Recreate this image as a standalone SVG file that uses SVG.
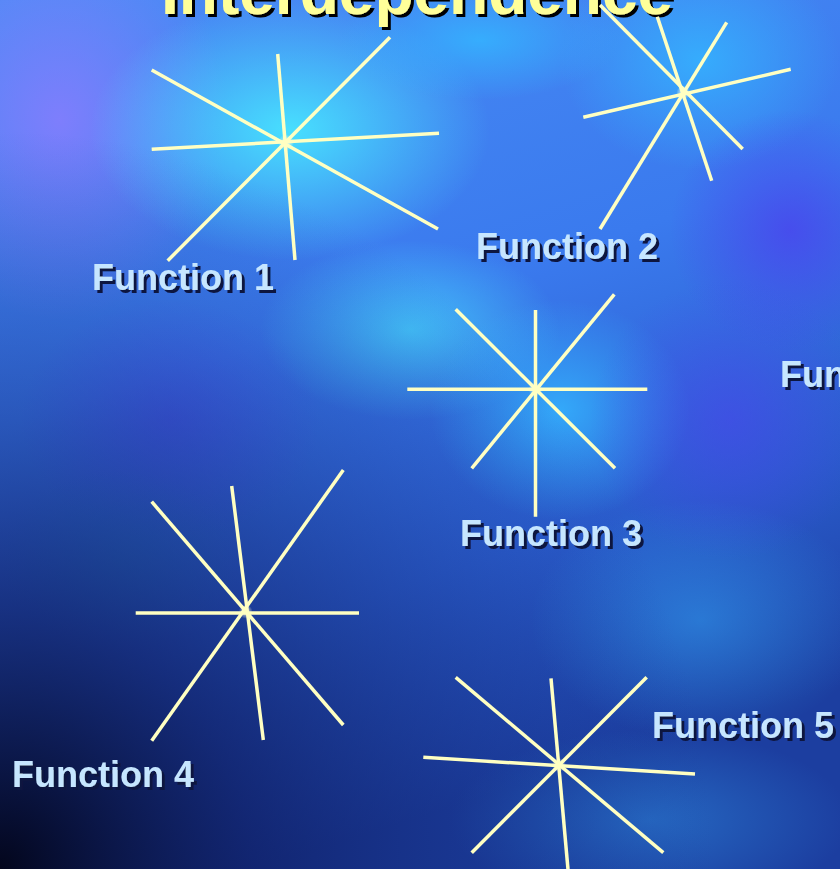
<svg xmlns="http://www.w3.org/2000/svg" width="840" height="869" viewBox="0 0 840 869">
  <defs>
    <linearGradient id="base" x1="0" y1="0" x2="0.3" y2="1">
      <stop offset="0" stop-color="#4a8cf5"/>
      <stop offset="0.45" stop-color="#3a7aee"/>
      <stop offset="0.75" stop-color="#2a5ccc"/>
      <stop offset="1" stop-color="#1c3ea0"/>
    </linearGradient>
    <radialGradient id="dark" cx="0" cy="1" r="0.85">
      <stop offset="0" stop-color="#03061c" stop-opacity="1"/>
      <stop offset="0.35" stop-color="#0d1a5c" stop-opacity="0.7"/>
      <stop offset="1" stop-color="#1a3a98" stop-opacity="0"/>
    </radialGradient>
    <radialGradient id="cyan" cx="0.5" cy="0.5" r="0.5">
      <stop offset="0" stop-color="#48e4ff" stop-opacity="0.95"/>
      <stop offset="1" stop-color="#48e4ff" stop-opacity="0"/>
    </radialGradient>
    <radialGradient id="sky" cx="0.5" cy="0.5" r="0.5">
      <stop offset="0" stop-color="#34b4ff" stop-opacity="0.85"/>
      <stop offset="1" stop-color="#34b4ff" stop-opacity="0"/>
    </radialGradient>
    <radialGradient id="violet" cx="0.5" cy="0.5" r="0.5">
      <stop offset="0" stop-color="#8c7cff" stop-opacity="0.8"/>
      <stop offset="1" stop-color="#8c7cff" stop-opacity="0"/>
    </radialGradient>
    <radialGradient id="indigo" cx="0.5" cy="0.5" r="0.5">
      <stop offset="0" stop-color="#4a44ee" stop-opacity="0.8"/>
      <stop offset="1" stop-color="#4a44ee" stop-opacity="0"/>
    </radialGradient>
    <radialGradient id="teal" cx="0.5" cy="0.5" r="0.5">
      <stop offset="0" stop-color="#2a7ad0" stop-opacity="0.7"/>
      <stop offset="1" stop-color="#2a7ad0" stop-opacity="0"/>
    </radialGradient>
    <radialGradient id="hub" cx="0.5" cy="0.5" r="0.5">
      <stop offset="0" stop-color="#ffffe0" stop-opacity="1"/>
      <stop offset="1" stop-color="#ffffe0" stop-opacity="0"/>
    </radialGradient>
    <filter id="shadow" x="-10%" y="-30%" width="120%" height="160%">
      <feDropShadow dx="3" dy="3" stdDeviation="0.6" flood-color="#0a1240" flood-opacity="1"/>
    </filter>
    <filter id="tshadow" x="-10%" y="-60%" width="120%" height="220%">
      <feDropShadow dx="3" dy="3" stdDeviation="0.5" flood-color="#000000" flood-opacity="1"/>
    </filter>
  </defs>
  <style>
    .ray { stroke: #ffffc2; stroke-width: 3.5; stroke-linecap: butt; fill: none; }
    .lbl { font-family: "Liberation Sans", Arial, sans-serif; font-weight: bold; font-size: 36px; fill: #c6e6ff; filter: url(#shadow); }
    .title { font-family: "Liberation Sans", Arial, sans-serif; font-weight: bold; font-size: 64px; fill: #ffff99; filter: url(#tshadow); }
  </style>

  <!-- background -->
  <rect x="0" y="0" width="840" height="869" fill="url(#base)"/>
  <ellipse cx="60" cy="120" rx="170" ry="200" fill="url(#violet)"/>
  <ellipse cx="290" cy="130" rx="200" ry="130" fill="url(#cyan)"/>
  <ellipse cx="410" cy="330" rx="150" ry="90" fill="url(#cyan)" opacity="0.7"/>
  <ellipse cx="560" cy="410" rx="130" ry="110" fill="url(#sky)"/>
  <ellipse cx="700" cy="60" rx="140" ry="110" fill="url(#sky)"/>
  <ellipse cx="480" cy="40" rx="140" ry="60" fill="url(#sky)"/>
  <ellipse cx="790" cy="230" rx="120" ry="120" fill="url(#indigo)"/>
  <ellipse cx="730" cy="420" rx="140" ry="140" fill="url(#indigo)" opacity="0.7"/>
  <ellipse cx="170" cy="420" rx="150" ry="120" fill="url(#indigo)" opacity="0.6"/>
  <ellipse cx="120" cy="560" rx="120" ry="90" fill="url(#teal)" opacity="0.8"/>
  <ellipse cx="700" cy="620" rx="170" ry="120" fill="url(#sky)" opacity="0.5"/>
  <ellipse cx="650" cy="820" rx="200" ry="90" fill="url(#teal)"/>
  <rect x="0" y="0" width="840" height="869" fill="url(#dark)"/>

  <!-- title (cut off at top edge as in the reference) -->
  <g id="title">
    <text class="title" x="161" y="14">Interdependence</text>
  </g>

  <!-- node 1 -->
  <g id="node1">
    <circle cx="286" cy="142.5" r="8" fill="url(#hub)"/>
    <line class="ray" x1="151.7" y1="70" x2="438" y2="229"/>
    <line class="ray" x1="277.7" y1="54" x2="295" y2="260"/>
    <line class="ray" x1="390" y1="37.3" x2="167.7" y2="260.7"/>
    <line class="ray" x1="151.7" y1="149.3" x2="439" y2="133.3"/>
    <text class="lbl" x="92" y="290">Function 1</text>
  </g>

  <!-- node 2 -->
  <g id="node2">
    <circle cx="683.3" cy="92.7" r="7" fill="url(#hub)"/>
    <line class="ray" x1="600" y1="5" x2="742.7" y2="149"/>
    <line class="ray" x1="657.3" y1="16.7" x2="711.7" y2="180.7"/>
    <line class="ray" x1="726.7" y1="22.3" x2="600" y2="229"/>
    <line class="ray" x1="583.3" y1="117.3" x2="790.7" y2="69.3"/>
    <text class="lbl" x="476" y="259">Function 2</text>
  </g>

  <!-- node 3 -->
  <g id="node3">
    <circle cx="535.5" cy="389.3" r="7" fill="url(#hub)"/>
    <line class="ray" x1="535.5" y1="310" x2="535.5" y2="516.7"/>
    <line class="ray" x1="407.3" y1="389.3" x2="647.3" y2="389.3"/>
    <line class="ray" x1="455.7" y1="309.3" x2="615" y2="468.3"/>
    <line class="ray" x1="614.3" y1="294.3" x2="471.7" y2="468.3"/>
    <text class="lbl" x="460" y="546">Function 3</text>
  </g>

  <!-- node 4 -->
  <g id="node4">
    <circle cx="245.7" cy="611.7" r="7" fill="url(#hub)"/>
    <line class="ray" x1="151.7" y1="501.7" x2="343.3" y2="725"/>
    <line class="ray" x1="231.7" y1="486" x2="263.3" y2="740"/>
    <line class="ray" x1="343.3" y1="470" x2="151.7" y2="740.7"/>
    <line class="ray" x1="135.7" y1="613" x2="359" y2="613"/>
    <text class="lbl" x="12" y="787">Function 4</text>
  </g>

  <!-- node 5 -->
  <g id="node5">
    <circle cx="559" cy="765" r="7" fill="url(#hub)"/>
    <line class="ray" x1="455.7" y1="677.3" x2="663.3" y2="852.7"/>
    <line class="ray" x1="551" y1="678.3" x2="568.5" y2="875"/>
    <line class="ray" x1="646.7" y1="677.3" x2="471.7" y2="852.7"/>
    <line class="ray" x1="423.3" y1="757.3" x2="695" y2="774"/>
    <text class="lbl" x="652" y="738">Function 5</text>
  </g>

  <!-- node 6 (cut off at right edge) -->
  <g id="node6">
    <text class="lbl" x="780" y="387">Fun</text>
  </g>
</svg>
